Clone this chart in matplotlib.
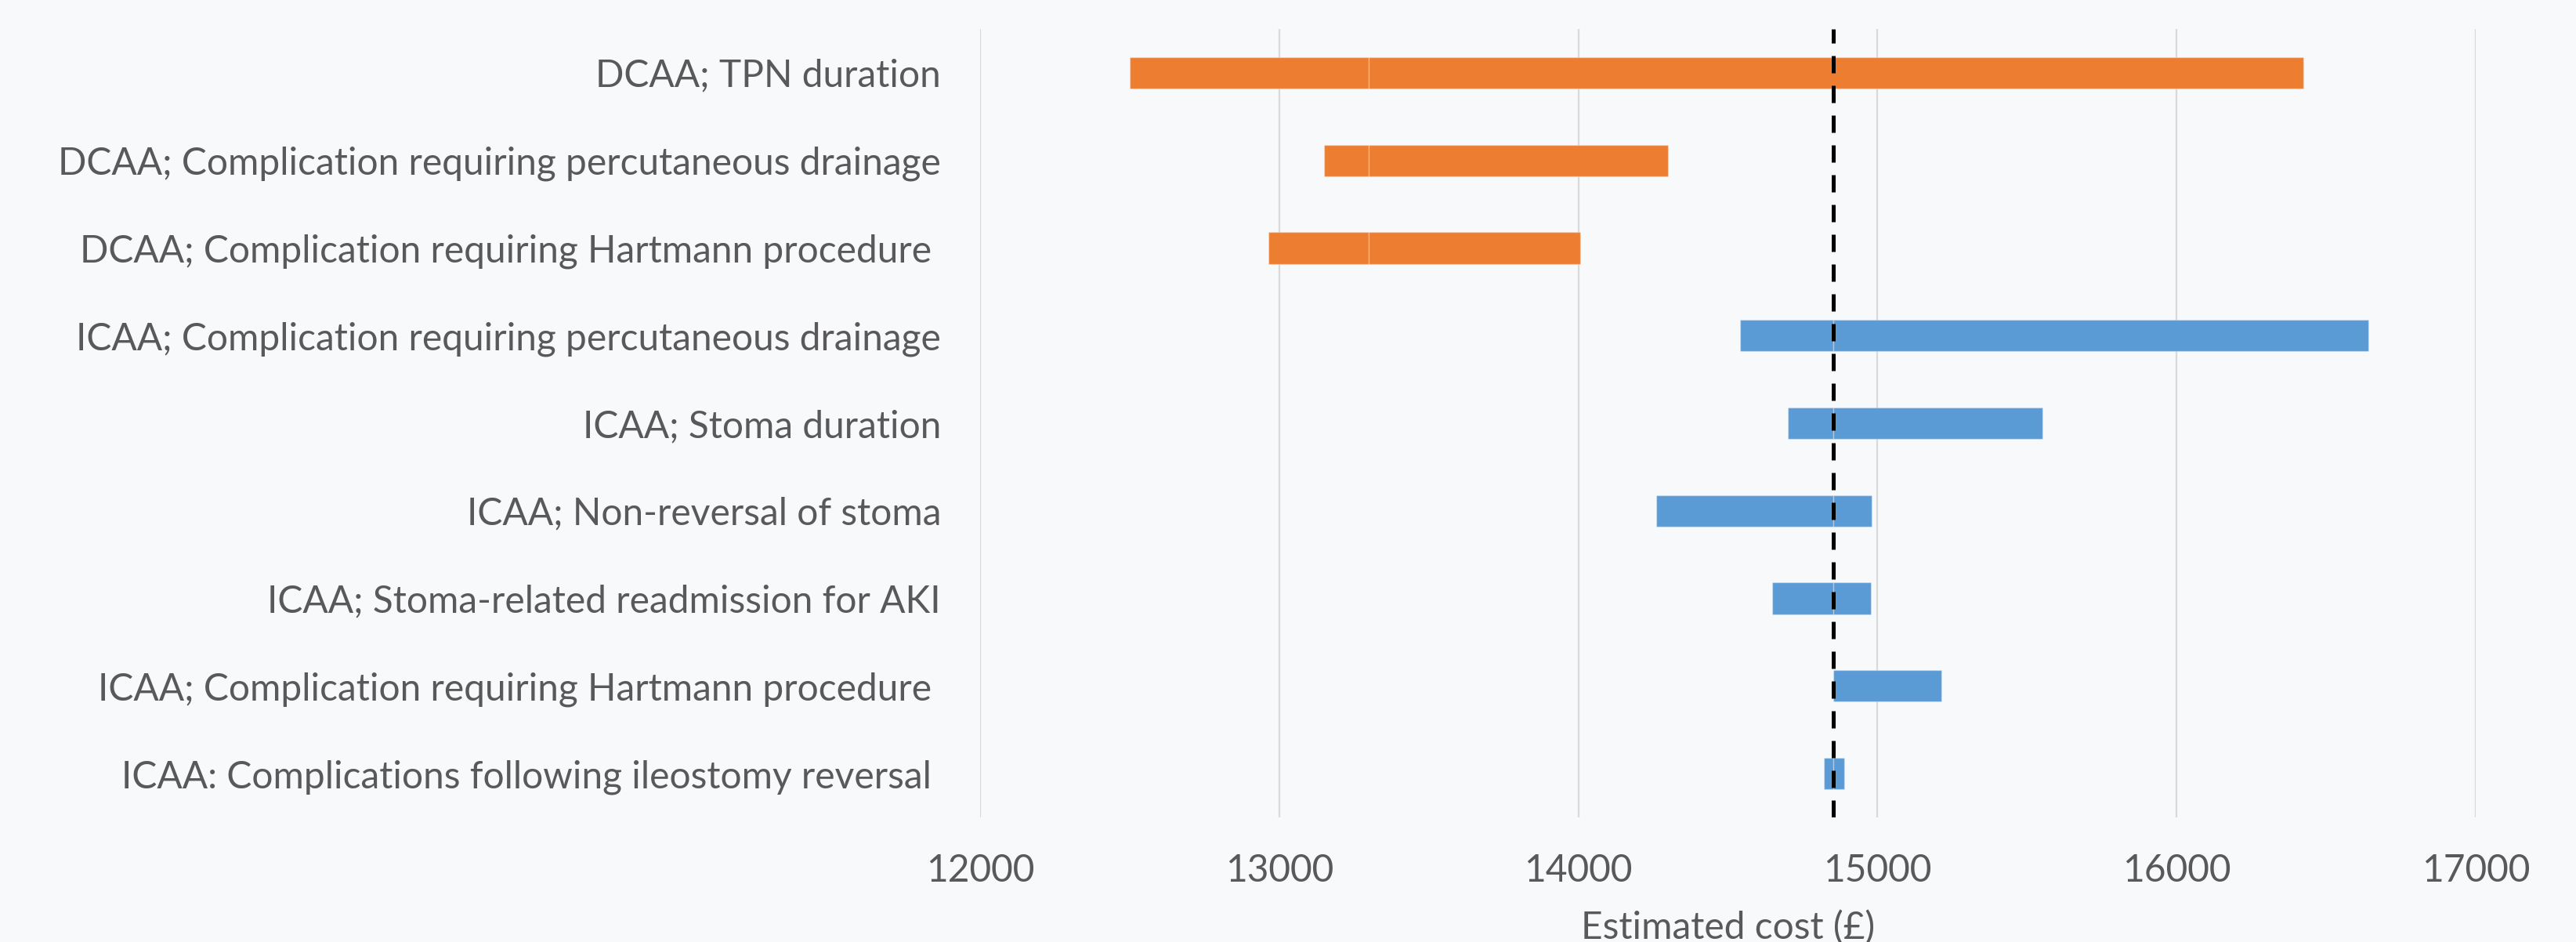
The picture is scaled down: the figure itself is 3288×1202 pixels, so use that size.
import numpy as np
import matplotlib
matplotlib.use("Agg")
import matplotlib.pyplot as plt

# data (top to bottom)
labels = ['DCAA; TPN duration',
          'DCAA; Complication requiring percutaneous drainage',
          'DCAA; Complication requiring Hartmann procedure ',
          'ICAA; Complication requiring percutaneous drainage',
          'ICAA; Stoma duration',
          'ICAA; Non-reversal of stoma',
          'ICAA; Stoma-related readmission for AKI',
          'ICAA; Complication requiring Hartmann procedure ',
          'ICAA: Complications following ileostomy reversal ']
low = [12500, 13150, 12965, 14540, 14700, 14260, 14647, 14853, 14822]
high = [16425, 14300, 14005, 16640, 15552, 14980, 14977, 15214, 14889]
group = ['DCAA', 'DCAA', 'DCAA', 'ICAA', 'ICAA', 'ICAA', 'ICAA', 'ICAA', 'ICAA']
base = {'DCAA': 13300, 'ICAA': 14853}
ref_cost = 14853
xticks = [12000, 13000, 14000, 15000, 16000, 17000]

colors = {'DCAA': '#ED7D31', 'ICAA': '#5B9BD5'}
txt = '#595959'
bg = '#F8F9FB'

plt.rcParams['font.family'] = ['Lato', 'DejaVu Sans']

fig = plt.figure(figsize=(32.88, 12.02), dpi=100, facecolor=bg)
ax = fig.add_axes([1251/3288, 1 - 1043/1202, (3160-1251)/3288, (1043-37)/1202])
ax.set_facecolor(bg)

y = np.arange(len(labels))
for i in range(len(labels)):
    b = base[group[i]]
    c = colors[group[i]]
    # two segments: low -> base, base -> high
    segs = [(low[i], min(b, high[i])), (max(b, low[i]), high[i])]
    for a, e in segs:
        if e > a:
            ax.barh(y[i], e - a, left=a, height=0.36, color=c,
                    edgecolor=(1, 1, 1, 0.3), linewidth=1.0, zorder=2)

ax.axvline(ref_cost, color='black', linewidth=3.6, linestyle=(0, (4.4, 3.2)),
           dash_capstyle='butt', zorder=3)

ax.set_xlim(12000, 17000)
ax.set_ylim(8.5, -0.5)
ax.set_xticks(xticks)
ax.set_xticklabels([str(t) for t in xticks])
ax.set_yticks(y)
ax.set_yticklabels(labels)
ax.grid(axis='x', color='#D9D9D9', linewidth=1.6, zorder=0)
ax.set_axisbelow(True)
for s in ax.spines.values():
    s.set_visible(False)
ax.tick_params(axis='y', length=0, pad=36, labelsize=34.5, labelcolor=txt)
ax.tick_params(axis='x', length=0, pad=33, labelsize=34.5, labelcolor=txt)
ax.set_xlabel('Estimated cost (£)', fontsize=34.5, color=txt, labelpad=20)

fig.savefig('out.png', dpi=100, facecolor=bg)
